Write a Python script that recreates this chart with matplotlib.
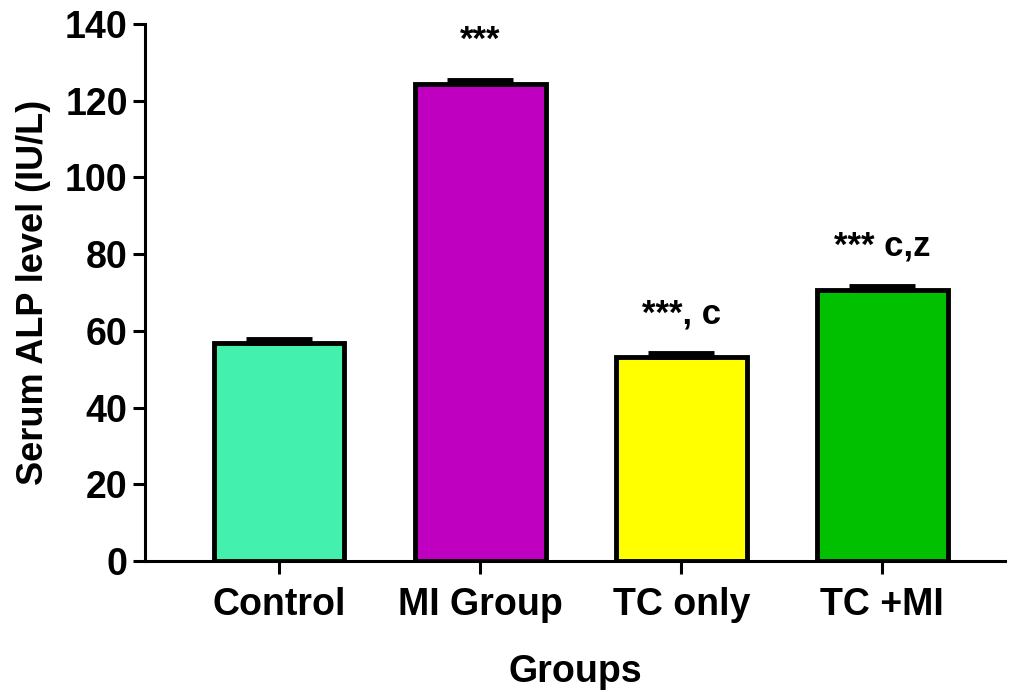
import matplotlib.pyplot as plt
import numpy as np

plt.rcParams['font.family'] = ['Liberation Sans', 'DejaVu Sans']
plt.rcParams['font.weight'] = 'bold'

groups = ['Control', 'MI Group', 'TC only', 'TC +MI']
alp_mean = [56.8, 124.4, 53.2, 70.7]
alp_err = [1.0, 1.0, 1.0, 1.0]
labels = ['', '***', '***, c', '*** c,z']
colors = ['#44F0AE', '#C000C0', '#FFFF00', '#00C000']

fig = plt.figure(figsize=(10.13, 6.92), dpi=100)
ax = fig.add_axes([145/1013, 131/692, 860/1013, 537/692])

x = np.arange(len(groups))
ax.bar(x, alp_mean, width=0.65, color=colors, edgecolor='black', linewidth=3.5, zorder=2)
# caps of the error bars
ax.errorbar(x, alp_mean, yerr=[[0]*4, alp_err], fmt='none', ecolor='black',
            capsize=24, capthick=3.5, elinewidth=3.5, zorder=3)

for xi, m, e, t in zip(x, alp_mean, alp_err, labels):
    if t:
        ax.text(xi, m + e + 6, t, ha='center', va='bottom', fontsize=25, fontweight='bold')

ax.set_xlim(-0.667, 3.61)
ax.set_ylim(0, 140)
ax.set_yticks(range(0, 141, 20))
ax.set_xticks(x)
ax.set_xticklabels(groups)
ax.tick_params(axis='both', labelsize=27, width=2.2, length=9)
ax.tick_params(axis='x', pad=10)
for s in ['top', 'right']:
    ax.spines[s].set_visible(False)
for s in ['left', 'bottom']:
    ax.spines[s].set_linewidth(2.2)
for lab in ax.get_xticklabels() + ax.get_yticklabels():
    lab.set_fontweight('bold')

ax.set_xlabel('Groups', fontsize=27, fontweight='bold', labelpad=22)
ax.set_ylabel('Serum ALP level (IU/L)', fontsize=26, fontweight='bold', labelpad=10)

fig.savefig('out.png', dpi=100)
